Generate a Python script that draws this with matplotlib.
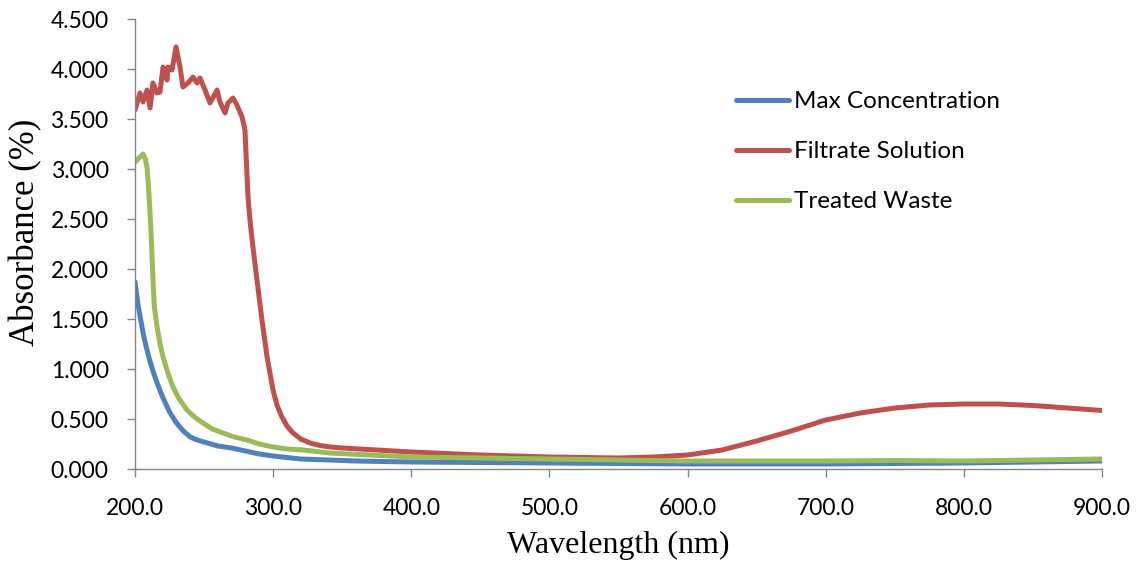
import matplotlib
matplotlib.use("Agg")
import matplotlib.pyplot as plt
from matplotlib.ticker import FormatStrFormatter, MultipleLocator

# ---- data ----
max_wl = [200, 202, 204, 206, 208, 210, 213, 216, 220, 225, 230, 235, 240, 245, 250, 260, 270,
          280, 290, 300, 320, 340, 360, 400, 450, 500, 550, 600, 650, 700, 750, 800, 850, 900]
max_abs = [1.87, 1.66, 1.50, 1.35, 1.23, 1.12, 0.98, 0.86, 0.72, 0.57, 0.46, 0.38, 0.32, 0.29,
           0.27, 0.23, 0.21, 0.18, 0.15, 0.13, 0.10, 0.09, 0.08, 0.07, 0.065, 0.06, 0.055, 0.05,
           0.05, 0.05, 0.055, 0.06, 0.07, 0.08]

fil_wl = [200, 203.6, 205.8, 208.7, 210.9, 213, 215.9, 218.1, 220.3, 223.2, 223.9, 226.8, 229.7,
          232.6, 234.7, 238.4, 242, 244.9, 247, 250.7, 254.3, 259.4, 261.5, 265.2, 267.3, 270.9,
          273.8, 277.5, 279.6, 281.8, 283.5, 285.4, 288.3, 291.9, 295.6, 299.9, 303, 306.4, 310,
          314.4, 320, 326.7, 334, 341.2, 350, 375, 400, 450, 500, 550, 575, 600, 625, 650, 675,
          700, 725, 750, 775, 800, 825, 850, 875, 900]
fil_abs = [3.59, 3.76, 3.67, 3.79, 3.61, 3.86, 3.76, 3.77, 4.02, 3.89, 4.02, 3.99, 4.22,
           4.02, 3.82, 3.86, 3.92, 3.86, 3.91, 3.79, 3.66, 3.79, 3.67, 3.56, 3.66, 3.71,
           3.64, 3.52, 3.39, 2.72, 2.45, 2.22, 1.89, 1.49, 1.12, 0.79, 0.63, 0.52, 0.43,
           0.36, 0.30, 0.26, 0.235, 0.22, 0.21, 0.19, 0.17, 0.14, 0.12, 0.11, 0.12, 0.14, 0.19,
           0.28, 0.38, 0.49, 0.56, 0.61, 0.64, 0.65, 0.65, 0.635, 0.61, 0.585]

tw_wl = [200, 203.6, 205.8, 207.5, 208.7, 209.4, 210.2, 210.9, 212, 213, 214, 216, 218, 220.3,
         224, 227.5, 232, 237.6, 243, 249.2, 256, 263.7, 272, 281.1, 290, 299.9, 310, 321.6,
         341.2, 370, 400, 450, 500, 550, 600, 650, 700, 750, 800, 850, 900]
tw_abs = [3.07, 3.12, 3.15, 3.10, 3.02, 2.89, 2.72, 2.56, 2.25, 1.90, 1.62, 1.42, 1.26, 1.12,
          0.95, 0.82, 0.70, 0.59, 0.52, 0.46, 0.40, 0.36, 0.32, 0.29, 0.25, 0.22, 0.20, 0.19,
          0.16, 0.14, 0.12, 0.11, 0.10, 0.09, 0.08, 0.08, 0.08, 0.085, 0.08, 0.09, 0.10]

series_names = ["Max Concentration", "Filtrate Solution", "Treated Waste"]
series_colors = ["#4F81BD", "#C0504D", "#9BBB59"]

fig = plt.figure(figsize=(11.41, 5.64), dpi=100)
ax = fig.add_axes([135/1141, 1-469/564, (1102-135)/1141, (469-19)/564])

for (wl, ab), name, col in zip([(max_wl, max_abs), (fil_wl, fil_abs), (tw_wl, tw_abs)],
                               series_names, series_colors):
    ax.plot(wl, ab, color=col, lw=3.6, label=name, solid_joinstyle="round", solid_capstyle="round")

ax.set_xlim(200, 900)
ax.set_ylim(0, 4.5)
ax.xaxis.set_major_locator(MultipleLocator(100))
ax.yaxis.set_major_locator(MultipleLocator(0.5))
ax.xaxis.set_major_formatter(FormatStrFormatter("%.1f"))
ax.yaxis.set_major_formatter(FormatStrFormatter("%.3f"))

for s in ["top", "right"]:
    ax.spines[s].set_visible(False)
for s in ["left", "bottom"]:
    ax.spines[s].set_color("#868686")
    ax.spines[s].set_linewidth(1.0)

tickfont = "Lato"
ax.tick_params(axis="both", direction="out", length=6, width=1.0, color="#868686",
               labelsize=16.5)
ax.tick_params(axis="x", pad=15)
ax.tick_params(axis="y", pad=13)
for lab in ax.get_xticklabels() + ax.get_yticklabels():
    lab.set_fontfamily(tickfont)

ax.set_xlabel("Wavelength (nm)", fontfamily="Liberation Serif", fontsize=23)
ax.set_ylabel("Absorbance (%)", fontfamily="Liberation Serif", fontsize=25)
ax.xaxis.set_label_coords(0.5, -(545 - 469) / 450, transform=ax.transAxes)
ax.xaxis.label.set_va("center")
ax.yaxis.set_label_coords(-(135 - 26) / 967, (469 - 232) / 450)
ax.yaxis.label.set_va("center")

leg = fig.legend(loc="upper left", bbox_to_anchor=(736/1141, 1-91/564), frameon=False,
                 prop={"family": tickfont, "size": 17.5}, handlelength=2.2, handletextpad=0.2,
                 labelspacing=1.2, borderpad=0, borderaxespad=0)
for h in leg.get_lines():
    h.set_linewidth(3.6)

fig.savefig("out.png", dpi=100)
